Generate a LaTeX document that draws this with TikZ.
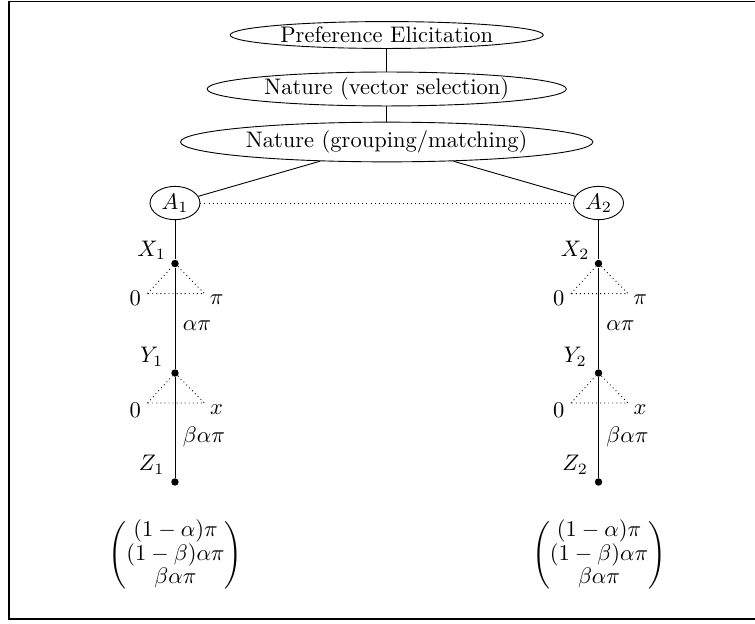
\documentclass[tikz,border=0pt]{standalone}
\usepackage{amsmath,amssymb}
\usepackage{tikz}
\usetikzlibrary{shapes.geometric}

\begin{document}
\begin{tikzpicture}[
    stage/.style={draw,ellipse,inner sep=0pt,align=center},
    agent/.style={draw,ellipse,inner sep=0pt,minimum width=0.78cm,minimum height=0.52cm},
    choice/.style={circle,fill,inner sep=0pt,minimum size=3.3pt},
    info/.style={dash pattern=on 0.4pt off 1.4pt}
]
    \useasboundingbox (0,0) rectangle (11.792,-9.746);
    \draw[semithick] (0.141,-0.023) rectangle (11.95,-9.668);
    % Top: stages
    \node[stage,minimum width=4.89cm,minimum height=0.42cm] (elicit) at (6.04,-0.547) {Preference Elicitation};
    \node[stage,minimum width=5.61cm,minimum height=0.53cm] (vector) at (6.04,-1.39) {Nature (vector selection)};
    \node[stage,minimum width=6.44cm,minimum height=0.62cm] (grouping) at (6.04,-2.218) {Nature (grouping/matching)};
    % Agents
    \node[agent] (a1) at (2.733,-3.171) {$A_1$};
    \node[agent] (a2) at (9.348,-3.171) {$A_2$};
    % Left branch
    \node[choice] (x1) at (2.733,-4.116) {};
    \node[choice] (y1) at (2.733,-5.826) {};
    \node[choice] (z1) at (2.733,-7.528) {};
    \coordinate (x1l) at (2.303,-4.585);
    \coordinate (x1r) at (3.193,-4.585);
    \coordinate (y1l) at (2.303,-6.295);
    \coordinate (y1r) at (3.193,-6.295);
    \node (x1lab) at (2.369,-3.905) {$X_1$};
    \node (y1lab) at (2.369,-5.571) {$Y_1$};
    \node (z1lab) at (2.369,-7.262) {$Z_1$};
    \node (x1zero) at (2.113,-4.655) {$0$};
    \node (x1pi) at (3.383,-4.686) {$\pi$};
    \node (y1zero) at (2.113,-6.40) {$0$};
    \node (y1x) at (3.383,-6.40) {$x$};
    \node[right] (x1share) at (2.733,-5.087) {$\alpha\pi$};
    \node[right] (y1share) at (2.733,-6.821) {$\beta\alpha\pi$};
    \node (pay1) at (2.741,-8.668) {$\renewcommand\arraystretch{0.87}\begin{pmatrix}(1-\alpha)\pi\\(1-\beta)\alpha\pi\\\beta\alpha\pi\end{pmatrix}$};
    % Right branch
    \node[choice] (x2) at (9.348,-4.116) {};
    \node[choice] (y2) at (9.348,-5.826) {};
    \node[choice] (z2) at (9.348,-7.528) {};
    \coordinate (x2l) at (8.918,-4.585);
    \coordinate (x2r) at (9.808,-4.585);
    \coordinate (y2l) at (8.918,-6.295);
    \coordinate (y2r) at (9.808,-6.295);
    \node (x2lab) at (8.984,-3.905) {$X_2$};
    \node (y2lab) at (8.984,-5.571) {$Y_2$};
    \node (z2lab) at (8.984,-7.262) {$Z_2$};
    \node (x2zero) at (8.728,-4.655) {$0$};
    \node (x2pi) at (9.998,-4.686) {$\pi$};
    \node (y2zero) at (8.728,-6.40) {$0$};
    \node (y2x) at (9.998,-6.40) {$x$};
    \node[right] (x2share) at (9.348,-5.087) {$\alpha\pi$};
    \node[right] (y2share) at (9.348,-6.821) {$\beta\alpha\pi$};
    \node (pay2) at (9.356,-8.668) {$\renewcommand\arraystretch{0.87}\begin{pmatrix}(1-\alpha)\pi\\(1-\beta)\alpha\pi\\\beta\alpha\pi\end{pmatrix}$};
    % Lines
    \draw (elicit) -- (vector);
    \draw (vector) -- (grouping);
    \draw (grouping) -- (a1);
    \draw (grouping) -- (a2);
    \draw[info] (a1) -- (a2);
    \draw (a1) -- (x1) -- (y1) -- (z1);
    \draw (a2) -- (x2) -- (y2) -- (z2);
    % Information triangles
    \draw[info] (x1l) -- (x1) -- (x1r) -- (x1l);
    \draw[info] (y1l) -- (y1) -- (y1r) -- (y1l);
    \draw[info] (x2l) -- (x2) -- (x2r) -- (x2l);
    \draw[info] (y2l) -- (y2) -- (y2r) -- (y2l);
\end{tikzpicture}
\end{document}
